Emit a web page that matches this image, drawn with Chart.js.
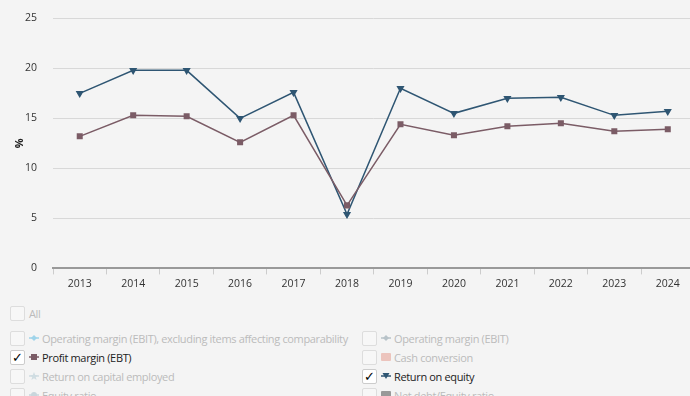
<!DOCTYPE html>
<html lang="en">
<head>
    <meta charset="UTF-8">
    <title>Key ratios</title>
    <script src="https://cdn.jsdelivr.net/npm/chart.js"></script>
    <style>
        body {
            margin: 0;
            background: #f4f4f4;
            font-family: "Open Sans", Arial, sans-serif;
            width: 690px;
            height: 396px;
            overflow: hidden;
        }
        /* the plot runs a little past the right and top edges of the window */
        .chart-box {
            position: relative;
            width: 700px;
            height: 300px;
            margin-top: -4px;
        }
        .series-list {
            position: relative;
            font-size: 11px;
            letter-spacing: -0.35px;
            color: #bbb;
        }
        .item {
            position: absolute;
            display: flex;
            align-items: center;
            height: 18px;
            white-space: nowrap;
        }
        .box {
            box-sizing: border-box;
            width: 15px;
            height: 15px;
            border: 1px solid #ddd;
            background: #f7f7f7;
            border-radius: 2px;
            margin-right: 4px;
            font-size: 13px;
            line-height: 13px;
            text-align: center;
            color: #000;
        }
        .item.on { color: #222; }
        .item.on .box { background: #fff; border-color: #ccc; }
        .item svg { margin-right: 3px; }
    </style>
</head>
<body>
    <div class="chart-box"><canvas id="ratioChart"></canvas></div>
    <div class="series-list">
        <div class="item" style="left:10px;top:8px"><span class="box"></span>All</div>
        <div class="item" style="left:10px;top:33px"><span class="box"></span>
            <svg width="10" height="10"><line x1="0" y1="5" x2="10" y2="5" stroke="#9fd4ea" stroke-width="1.5"/><path d="M5 2 L8 5 L5 8 L2 5 Z" fill="#9fd4ea"/></svg>Operating margin (EBIT), excluding items affecting comparability</div>
        <div class="item on" style="left:10px;top:52px"><span class="box">&#10003;</span>
            <svg width="10" height="10"><line x1="0" y1="5" x2="10" y2="5" stroke="#7b5c66" stroke-width="1.5"/><rect x="2" y="2" width="6" height="6" fill="#7b5c66"/></svg>Profit margin (EBT)</div>
        <div class="item" style="left:10px;top:71px"><span class="box"></span>
            <svg width="10" height="10"><line x1="0" y1="5" x2="10" y2="5" stroke="#d0dde2" stroke-width="1.5"/><path d="M5 1 L6.2 4 L9 4.2 L6.8 6 L7.6 9 L5 7.3 L2.4 9 L3.2 6 L1 4.2 L3.8 4 Z" fill="#d0dde2"/></svg>Return on capital employed</div>
        <div class="item" style="left:10px;top:90px"><span class="box"></span>
            <svg width="10" height="10"><line x1="0" y1="5" x2="10" y2="5" stroke="#c9d6dc" stroke-width="1.5"/><circle cx="5" cy="5" r="3" fill="#c9d6dc"/></svg>Equity ratio</div>
        <div class="item" style="left:362px;top:33px"><span class="box"></span>
            <svg width="10" height="10"><line x1="0" y1="5" x2="10" y2="5" stroke="#b8c3c9" stroke-width="1.5"/><path d="M5 2 L8 5 L5 8 L2 5 Z" fill="#b8c3c9"/></svg>Operating margin (EBIT)</div>
        <div class="item" style="left:362px;top:52px"><span class="box"></span>
            <svg width="10" height="10"><rect x="0" y="1" width="10" height="8" rx="1" fill="#ecc4bd"/></svg>Cash conversion</div>
        <div class="item on" style="left:362px;top:71px"><span class="box">&#10003;</span>
            <svg width="10" height="10"><line x1="0" y1="5" x2="10" y2="5" stroke="#2f5673" stroke-width="1.5"/><path d="M1.5 2 L8.5 2 L5 8 Z" fill="#2f5673"/></svg>Return on equity</div>
        <div class="item" style="left:362px;top:90px"><span class="box"></span>
            <svg width="10" height="10"><rect x="0" y="1" width="10" height="8" rx="1" fill="#999"/></svg>Net debt/Equity ratio</div>
    </div>

    <script>
        // Years and ratios (%)
        const years = ["2013", "2014", "2015", "2016", "2017", "2018", "2019", "2020", "2021", "2022", "2023", "2024"];
        const profitMargin = [13.2, 15.3, 15.2, 12.6, 15.3, 6.3, 14.4, 13.3, 14.2, 14.5, 13.7, 13.9];
        const returnOnEquity = [17.5, 19.8, 19.8, 15.0, 17.6, 5.4, 18.0, 15.5, 17.0, 17.1, 15.3, 15.7];
        const yTicks = [0, 5, 10, 15, 20, 25];
        const yTitle = "%";

        // axis title sits close to the tick labels, so draw it by hand
        const yTitlePlugin = {
            id: "yTitle",
            afterDraw(chart) {
                const c = chart.ctx;
                const area = chart.chartArea;
                c.save();
                c.translate(20, (area.top + area.bottom) / 2);
                c.rotate(-Math.PI / 2);
                c.font = "bold 11px 'Open Sans'";
                c.fillStyle = "#222";
                c.textAlign = "center";
                c.textBaseline = "middle";
                c.fillText(yTitle, 0, 0);
                c.restore();
            }
        };

        const ctx = document.getElementById("ratioChart").getContext("2d");
        new Chart(ctx, {
            type: "line",
            data: {
                labels: years,
                datasets: [
                    {
                        label: "Profit margin (EBT)",
                        data: profitMargin,
                        borderColor: "#7b5c66",
                        backgroundColor: "#7b5c66",
                        borderWidth: 1.5,
                        pointStyle: "rect",
                        pointRadius: 3.2,
                        tension: 0
                    },
                    {
                        label: "Return on equity",
                        data: returnOnEquity,
                        borderColor: "#2f5673",
                        backgroundColor: "#2f5673",
                        borderWidth: 1.5,
                        pointStyle: "triangle",
                        rotation: 180,
                        pointRadius: 3.2,
                        tension: 0
                    }
                ]
            },
            options: {
                responsive: true,
                maintainAspectRatio: false,
                animation: false,
                layout: { padding: { left: 9, right: 0, top: 2, bottom: 3 } },
                plugins: {
                    legend: { display: false },
                    tooltip: { enabled: false }
                },
                scales: {
                    x: {
                        offset: true,
                        grid: {
                            display: true,
                            offset: true,
                            drawOnChartArea: false,
                            color: "#ccc",
                            tickLength: 6
                        },
                        border: { color: "#999", width: 2 },
                        ticks: {
                            color: "#333",
                            font: { family: "Open Sans", size: 10.5 },
                            padding: 3,
                            maxRotation: 0
                        }
                    },
                    y: {
                        min: 0,
                        max: 25,
                        afterBuildTicks: axis => { axis.ticks = yTicks.map(v => ({ value: v })); },
                        grid: { color: "#d8d8d8", drawTicks: false },
                        border: { display: false },
                        ticks: {
                            color: "#333",
                            font: { family: "Open Sans", size: 10.5 },
                            padding: 16
                        }
                    }
                }
            },
            plugins: [yTitlePlugin]
        });
    </script>
</body>
</html>
